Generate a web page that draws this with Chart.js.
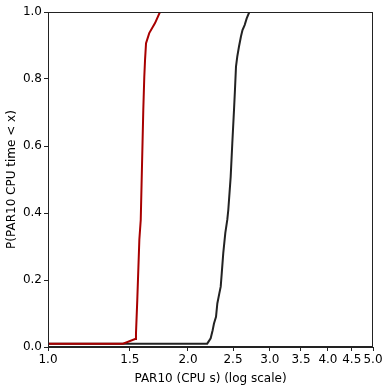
<!DOCTYPE html>
<html>
<head>
<meta charset="utf-8">
<script src="https://cdn.jsdelivr.net/npm/chart.js@4/dist/chart.umd.min.js"></script>
<style>
  html, body { margin: 0; padding: 0; background: #fff; }
  #wrap { width: 388px; height: 390px; }
</style>
</head>
<body>
<div id="wrap"><canvas id="cdf"></canvas></div>
<script>
// CPU time (s) and cumulative probability
var redX = [1.0, 1.45, 1.539, 1.546, 1.556, 1.572, 1.583, 1.603, 1.611, 1.617, 1.625, 1.651, 1.699, 1.741];
var redY = [0.01, 0.01, 0.024, 0.04, 0.14, 0.32, 0.38, 0.707, 0.807, 0.857, 0.907, 0.937, 0.967, 1.0];

var blackX = [1.0, 2.20, 2.238, 2.260, 2.275, 2.298, 2.313, 2.336, 2.352, 2.364, 2.382, 2.406, 2.430, 2.442,
              2.471, 2.491, 2.512, 2.524, 2.537, 2.553, 2.575, 2.600, 2.620, 2.648, 2.675, 2.710];
var blackY = [0.01, 0.01, 0.026, 0.05, 0.07, 0.09, 0.13, 0.16, 0.18, 0.22, 0.28, 0.34, 0.38, 0.409,
              0.508, 0.608, 0.707, 0.767, 0.837, 0.867, 0.897, 0.927, 0.946, 0.961, 0.981, 1.0];

var xTicks = [1.0, 1.5, 2.0, 2.5, 3.0, 3.5, 4.0, 4.5, 5.0];
var yTicks = [0.0, 0.2, 0.4, 0.6, 0.8, 1.0];

function toPoints(xs, ys) {
    return xs.map(function (x, i) { return { x: x, y: ys[i] }; });
}

// draw the top and right spines too
var boxPlugin = {
    id: 'box',
    afterDraw: function (chart) {
        var a = chart.chartArea, ctx = chart.ctx;
        ctx.save();
        ctx.strokeStyle = '#222';
        ctx.lineWidth = 1;
        ctx.strokeRect(a.left + 0.5, a.top + 0.5, a.right - a.left - 1, a.bottom - a.top - 1);
        ctx.restore();
    }
};

Chart.defaults.font.family = 'DejaVu Sans';
Chart.defaults.font.size = 12;
Chart.defaults.color = '#000';

var ctx = document.getElementById('cdf').getContext('2d');
var myChart = new Chart(ctx, {
    type: 'scatter',
    data: {
        datasets: [{
            data: toPoints(redX, redY),
            showLine: true,
            borderColor: '#a80000',
            borderWidth: 2,
            pointRadius: 0,
            tension: 0
        }, {
            data: toPoints(blackX, blackY),
            showLine: true,
            borderColor: '#222222',
            borderWidth: 2,
            pointRadius: 0,
            tension: 0
        }]
    },
    options: {
        responsive: true,
        maintainAspectRatio: false,
        animation: false,
        layout: { padding: { top: 12, right: 15, left: 5, bottom: 4 } },
        plugins: {
            legend: { display: false },
            tooltip: { enabled: false }
        },
        scales: {
            x: {
                type: 'logarithmic',
                min: 1,
                max: 5,
                afterBuildTicks: function (scale) {
                    scale.ticks = xTicks.map(function (v) { return { value: v }; });
                },
                afterFit: function (scale) { scale.height = 39; },
                ticks: {
                    autoSkip: false,
                    maxRotation: 0,
                    padding: 2,
                    callback: function (v) { return Number(v).toFixed(1); }
                },
                grid: { drawOnChartArea: false, tickLength: 4, color: '#222' },
                border: { color: '#222' },
                title: { display: true, text: 'PAR10 (CPU s) (log scale)', padding: { top: 0, bottom: 0 } }
            },
            y: {
                min: 0,
                max: 1,
                afterBuildTicks: function (scale) {
                    scale.ticks = yTicks.map(function (v) { return { value: v }; });
                },
                afterFit: function (scale) { scale.width = 43; },
                ticks: {
                    padding: 2,
                    callback: function (v) { return Number(v).toFixed(1); }
                },
                grid: { drawOnChartArea: false, tickLength: 4, color: '#222' },
                border: { color: '#222' },
                title: { display: true, text: 'P(PAR10 CPU time < x)', padding: { top: 0, bottom: 2 } }
            }
        }
    },
    plugins: [boxPlugin]
});
</script>
</body>
</html>
